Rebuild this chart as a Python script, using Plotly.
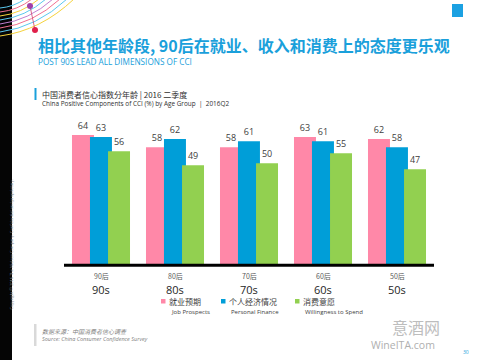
import plotly.graph_objects as go

# ---- data ----
groups_cn = ["90后", "80后", "70后", "60后", "50后"]
groups_en = ["90s", "80s", "70s", "60s", "50s"]
series_cn = ["就业预期", "个人经济情况", "消费意愿"]
series_en = ["Job Prospects", "Personal Finance", "Willingness to Spend"]
job_prospects = [64, 58, 58, 63, 62]
personal_finance = [63, 62, 61, 61, 58]
willingness_to_spend = [56, 49, 50, 55, 47]
colors = ["#FF88A8", "#009ED8", "#92D050"]

FONT = "Open Sans, Noto Sans CJK SC, sans-serif"
CJK = "Noto Sans CJK SC, sans-serif"
BLUE = "#1AA0DB"

# plot area in pixels
L, T, W, H = 64, 123, 370, 141


def px(x):
    return (x - L) / W


def py(y):
    return (T + H - y) / H


fig = go.Figure()
xs = list(range(len(groups_en)))
values = [job_prospects, personal_finance, willingness_to_spend]
offsets = [-0.392, -0.149, 0.095]
for vals, col, off, name in zip(values, colors, offsets, series_en):
    fig.add_trace(go.Bar(
        x=xs, y=vals, name=name, marker=dict(color=col, line=dict(width=0)),
        width=0.297, offset=off,
        text=vals, textposition="outside", cliponaxis=False,
        textfont=dict(family=FONT, size=9, color="#404040"),
        showlegend=False, hoverinfo="skip",
    ))

shapes = []
ann = []

# black strip at left
shapes.append(dict(type="rect", xref="paper", yref="paper", x0=px(0), x1=px(12),
                   y0=py(360), y1=py(0), fillcolor="#050505", line=dict(width=0), layer="below"))
ann.append(dict(text="Copyright © 2016 The Nielsen Company. Confidential and proprietary.",
                xref="paper", yref="paper", x=px(6), y=py(312), textangle=-90,
                showarrow=False, font=dict(family=FONT, size=4, color="#8a8a8a")))

# decorative arcs top-left
arc_cols = ["#5BC8EE", "#F07090", "#F5D23C", "#5BC8EE", "#C080D0", "#F07090", "#5BC8EE", "#F5D23C"]
for i, c in enumerate(arc_cols):
    y0 = 8 + i * 4
    x1 = 25 + i * 7
    cx, cy = x1 * 0.55, y0 * 0.85
    path = "M {},{} Q {},{} {},{}".format(px(0), py(y0), px(cx), py(cy), px(x1), py(-1))
    shapes.append(dict(type="path", xref="paper", yref="paper", path=path,
                       line=dict(color=c, width=1)))
shapes.append(dict(type="line", xref="paper", yref="paper", x0=px(30), y0=py(6),
                   x1=px(35), y1=py(30), line=dict(color="#D04070", width=0.8)))
shapes.append(dict(type="circle", xref="paper", yref="paper", x0=px(27), x1=px(33),
                   y0=py(3), y1=py(9), fillcolor="#A040A8", line=dict(width=0)))
shapes.append(dict(type="circle", xref="paper", yref="paper", x0=px(32), x1=px(38),
                   y0=py(27), y1=py(33), fillcolor="#E0204A", line=dict(width=0)))

# Nielsen logo
shapes.append(dict(type="rect", xref="paper", yref="paper", x0=px(452), x1=px(463),
                   y0=py(17), y1=py(4), fillcolor="#1BA1E2", line=dict(width=0)))
ann.append(dict(text="<b>n</b>", xref="paper", yref="paper", x=px(457.5), y=py(11),
                showarrow=False, font=dict(family=FONT, size=10, color="white")))

# titles
ann.append(dict(text="<b>相比其他年龄段, 90后在就业、收入和消费上的态度更乐观</b>", xref="paper", yref="paper",
                x=px(36), y=py(45), xanchor="left", yanchor="middle", showarrow=False,
                font=dict(family=CJK, size=16, color=BLUE)))
ann.append(dict(text="POST 90S LEAD ALL DIMENSIONS OF CCI", xref="paper", yref="paper",
                x=px(36), y=py(62), xanchor="left", yanchor="middle", showarrow=False,
                font=dict(family=FONT, size=8.2, color=BLUE)))

# chart sub header
shapes.append(dict(type="rect", xref="paper", yref="paper", x0=px(34.5), x1=px(36.5),
                   y0=py(100), y1=py(88), fillcolor=BLUE, line=dict(width=0)))
ann.append(dict(text="中国消费者信心指数分年龄 | 2016 二季度", xref="paper", yref="paper",
                x=px(39.5), y=py(95), xanchor="left", yanchor="middle", showarrow=False,
                font=dict(family=CJK, size=8, color="#303030")))
ann.append(dict(text="China Positive Components of CCI (%) by Age Group  |  2016Q2", xref="paper", yref="paper",
                x=px(39.5), y=py(103), xanchor="left", yanchor="middle", showarrow=False,
                font=dict(family=FONT, size=6.4, color="#303030")))

# category labels
for i, (cn, en) in enumerate(zip(groups_cn, groups_en)):
    ann.append(dict(text=cn, xref="x", yref="paper", x=i, y=py(276), yanchor="middle",
                    showarrow=False, font=dict(family=CJK, size=7, color="#595959")))
    ann.append(dict(text=en, xref="x", yref="paper", x=i, y=py(289), yanchor="middle",
                    showarrow=False, font=dict(family=FONT, size=11, color="#262626")))

# legend
leg_x = [161, 221, 295]
for c, cn, en, lx in zip(colors, series_cn, series_en, leg_x):
    shapes.append(dict(type="rect", xref="paper", yref="paper", x0=px(lx), x1=px(lx + 4.5),
                       y0=py(303.5), y1=py(299), fillcolor=c, line=dict(width=0)))
    ann.append(dict(text=cn, xref="paper", yref="paper", x=px(lx + 6), y=py(301.5),
                    xanchor="left", yanchor="middle", showarrow=False,
                    font=dict(family=CJK, size=8, color="#404040")))
    ann.append(dict(text=en, xref="paper", yref="paper", x=px(lx + 7.5), y=py(311.5),
                    xanchor="left", yanchor="middle", showarrow=False,
                    font=dict(family=FONT, size=6, color="#404040")))

# source
shapes.append(dict(type="rect", xref="paper", yref="paper", x0=px(34), x1=px(36.5),
                   y0=py(346), y1=py(324), fillcolor="#D9D9D9", line=dict(width=0)))
ann.append(dict(text="<i>数据来源：中国消费者信心调查</i>", xref="paper", yref="paper",
                x=px(39.5), y=py(331.5), xanchor="left", yanchor="middle", showarrow=False,
                font=dict(family=CJK, size=6, color="#7F7F7F")))
ann.append(dict(text="<i>Source: China Consumer Confidence Survey</i>", xref="paper", yref="paper",
                x=px(39.5), y=py(339), xanchor="left", yanchor="middle", showarrow=False,
                font=dict(family=FONT, size=5.5, color="#7F7F7F")))

# watermark and page number
ann.append(dict(text="意酒网", xref="paper", yref="paper", x=px(441), y=py(327),
                yanchor="middle", showarrow=False, font=dict(family=CJK, size=16, color="#BDBDBD"),
                borderpad=0))
ann.append(dict(text="WineITA.com", xref="paper", yref="paper", x=px(436), y=py(345),
                yanchor="middle", showarrow=False, font=dict(family=FONT, size=10.5, color="#AFAFAF"),
                borderpad=0))
ann.append(dict(text="30", xref="paper", yref="paper", x=px(471), y=py(351.5),
                yanchor="middle", showarrow=False, font=dict(family=FONT, size=5, color=BLUE)))

fig.update_layout(
    width=480, height=360,
    margin=dict(l=L, r=480 - L - W, t=T, b=360 - T - H),
    paper_bgcolor="white", plot_bgcolor="white",
    barmode="overlay",
    hovermode=False,
    xaxis=dict(range=[-0.5, 4.5], showticklabels=False, ticks="", showgrid=False,
               zeroline=False, showline=False, fixedrange=True),
    yaxis=dict(range=[0, 70], visible=False, showgrid=False, zeroline=False, fixedrange=True),
    shapes=shapes + [dict(type="line", xref="paper", yref="paper", x0=0, x1=1, y0=-0.008, y1=-0.008,
                          line=dict(color="black", width=3))],
    annotations=ann,
    showlegend=False,
)

fig.write_html("out.html", config={"displayModeBar": False},
               post_script="document.body.style.margin='0';document.body.style.overflow='hidden';")
